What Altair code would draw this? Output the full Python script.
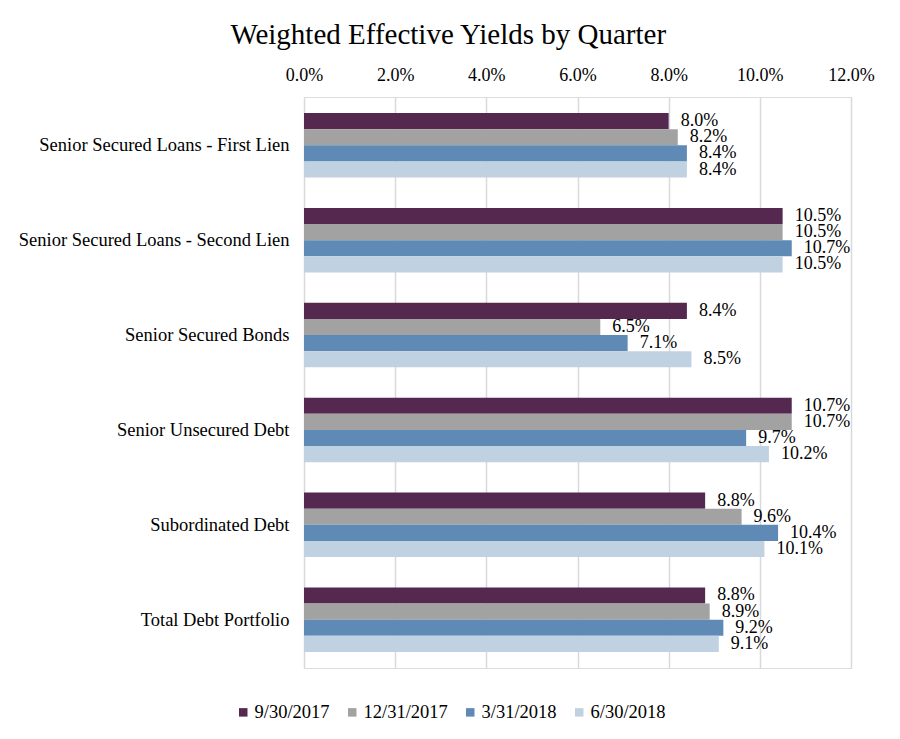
import altair as alt
import pandas as pd

categories = [
    "Senior Secured Loans - First Lien",
    "Senior Secured Loans - Second Lien",
    "Senior Secured Bonds",
    "Senior Unsecured Debt",
    "Subordinated Debt",
    "Total Debt Portfolio",
]
quarters = ["9/30/2017", "12/31/2017", "3/31/2018", "6/30/2018"]
q_2017_09 = [0.080, 0.105, 0.084, 0.107, 0.088, 0.088]
q_2017_12 = [0.082, 0.105, 0.065, 0.107, 0.096, 0.089]
q_2018_03 = [0.084, 0.107, 0.071, 0.097, 0.104, 0.092]
q_2018_06 = [0.084, 0.105, 0.085, 0.102, 0.101, 0.091]
colors = ["#54284F", "#A3A2A3", "#5F8AB5", "#C0D2E2"]
ticks = [0.0, 0.02, 0.04, 0.06, 0.08, 0.10, 0.12]

rows = []
for q, vals in zip(quarters, [q_2017_09, q_2017_12, q_2018_03, q_2018_06]):
    for c, v in zip(categories, vals):
        rows.append({"category": c, "quarter": q, "value": v})
df = pd.DataFrame(rows)

FONT = "Liberation Serif"

base = alt.Chart(df).encode(
    y=alt.Y("category:N", sort=categories, title=None,
            scale=alt.Scale(paddingInner=0.32, paddingOuter=0.17),
            axis=alt.Axis(labelFont=FONT, labelFontSize=18.5, labelColor="#000",
                          domain=False, ticks=False, labelPadding=15,
                          labelLimit=400)),
    yOffset=alt.YOffset("quarter:N", sort=quarters, scale=alt.Scale(paddingInner=0, paddingOuter=0)),
    x=alt.X("value:Q", title=None,
            scale=alt.Scale(domain=[0, 0.12], nice=False),
            axis=alt.Axis(orient="top", values=ticks, format=".1%",
                          labelFont=FONT, labelFontSize=18, labelColor="#000",
                          labelFlush=False,
                          domain=False, ticks=False, labelPadding=13,
                          gridColor="#D9D9D9", gridWidth=1.5)),
)

bars = base.mark_bar().encode(
    color=alt.Color("quarter:N", sort=quarters,
                    scale=alt.Scale(domain=quarters, range=colors),
                    legend=alt.Legend(title=None, orient="none", direction="horizontal",
                                      legendX=-70, legendY=606,
                                      symbolType="square", symbolSize=72,
                                      labelFont=FONT, labelFontSize=18.5, labelColor="#000",
                                      columnPadding=13, symbolStrokeWidth=0,
                                      labelOffset=2))
)

labels = base.mark_text(align="left", baseline="middle", dx=12, font=FONT,
                        fontSize=18, color="#000").encode(
    text=alt.Text("value:Q", format=".1%")
)

chart = alt.layer(bars, labels).properties(
    width=547, height=571,
    padding={"left": 10, "top": 13, "right": 5, "bottom": 5},
    title=alt.TitleParams("Weighted Effective Yields by Quarter", font=FONT,
                          fontSize=29, fontWeight="normal", color="#000",
                          offset=16, anchor="middle", frame="bounds", dx=2),
).configure_view(stroke=None).configure(background="white")

chart.save("out.html", embed_options={"renderer": "svg", "actions": False})
